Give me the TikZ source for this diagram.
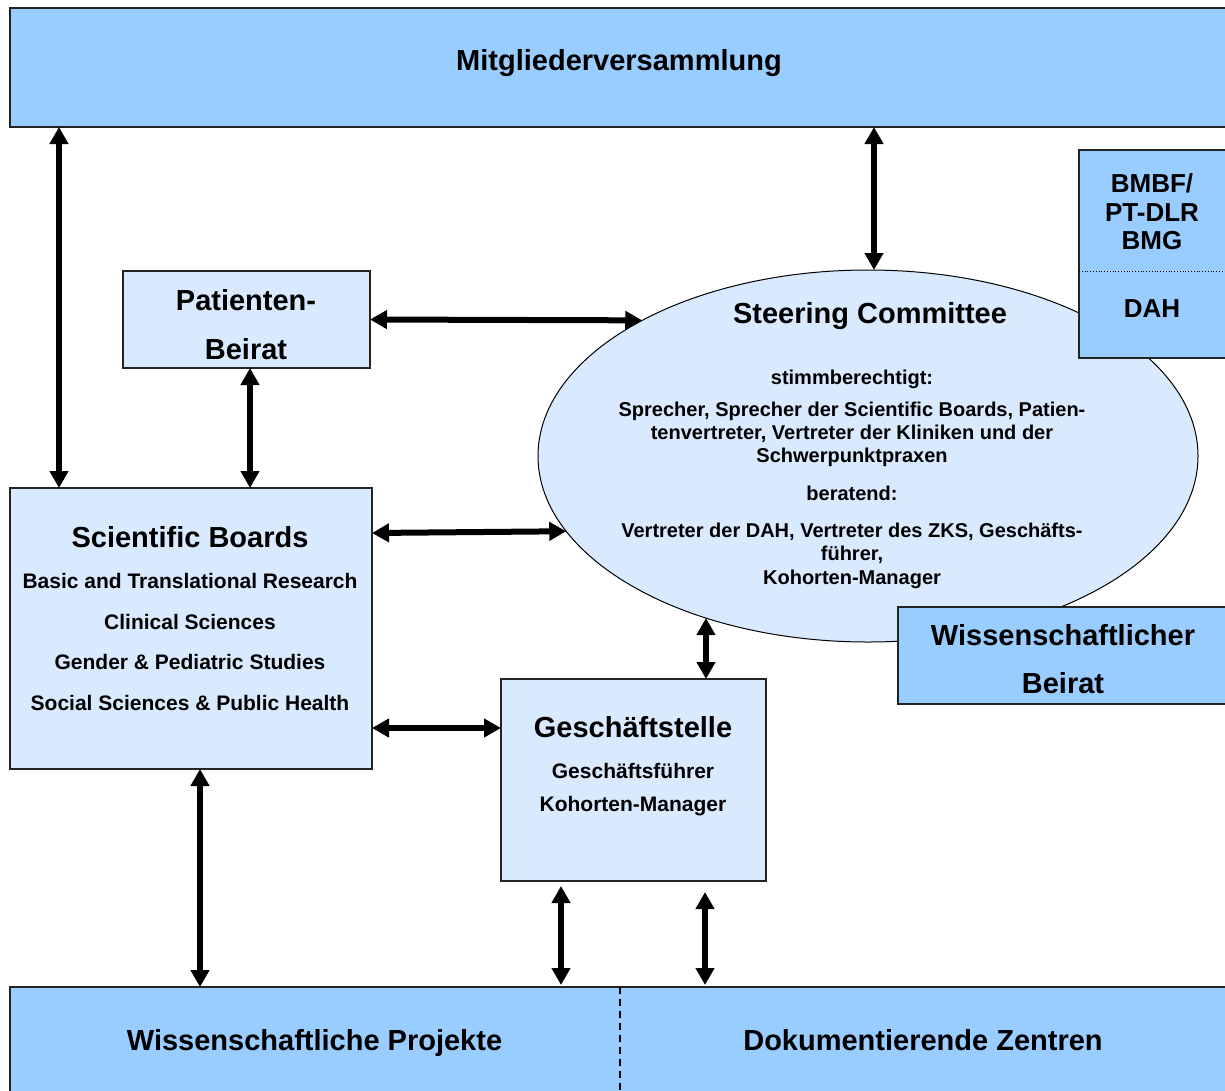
\documentclass[tikz,border=0pt]{standalone}
\usepackage{fontspec}
\setmainfont{Liberation Sans}
\usetikzlibrary{shapes.geometric,arrows.meta}
\definecolor{dblue}{RGB}{153,204,255}
\definecolor{lblue}{RGB}{217,234,255}
\definecolor{edgec}{RGB}{35,35,35}
\tikzset{
 box/.style={draw=edgec,line width=1.3pt,anchor=north west,inner sep=0,outer sep=0},
 dbox/.style={box,fill=dblue},
 lbox/.style={box,fill=lblue},
 big/.style={font=\fontsize{29}{29}\selectfont\bfseries,anchor=base,inner sep=0},
 mid/.style={font=\fontsize{26}{26}\selectfont\bfseries,anchor=base,inner sep=0},
 small/.style={font=\fontsize{21}{21}\selectfont\bfseries,anchor=base,inner sep=0},
 tiny/.style={font=\fontsize{20}{20}\selectfont\bfseries,anchor=base,inner sep=0},
 dbl/.style={{Triangle[width=18pt,length=17pt]}-{Triangle[width=18pt,length=17pt]},line width=6pt},
}
\begin{document}
\begin{tikzpicture}[x=1pt,y=-1pt]
\useasboundingbox (0,0) rectangle (1225,1090);
\clip (0,0) rectangle (1225,1090);
% boxes
\node[dbox,minimum width=1225,minimum height=119] (mv) at (10,8) {};
\node[big] (mvt) at (619,70) {Mitgliederversammlung};

\node[ellipse,draw=black,line width=1pt,fill=lblue,minimum width=660,minimum height=372,inner sep=0,outer sep=0] (sc) at (868,456) {};
\node[big] (sct) at (870,323) {Steering Committee};
\node[tiny] (s1) at (852,384) {stimmberechtigt:};
\node[tiny] (s2) at (852,416) {Sprecher, Sprecher der Scientific Boards, Patien-};
\node[tiny] (s3) at (852,439) {tenvertreter, Vertreter der Kliniken und der};
\node[tiny] (s4) at (852,462) {Schwerpunktpraxen};
\node[tiny] (s5) at (852,500) {beratend:};
\node[tiny] (s6) at (852,537) {Vertreter der DAH, Vertreter des ZKS, Geschäfts-};
\node[tiny] (s7) at (852,560) {führer,};
\node[tiny] (s8) at (852,584) {Kohorten-Manager};

\node[dbox,minimum width=150,minimum height=208] (bm) at (1079,150) {};
\draw[dotted,line width=0.8pt] (bm.west |- 0,271) coordinate (bmdl) -- (bm.east |- bmdl);
\node[mid] (bm1) at (1152,192) {BMBF/};
\node[mid] (bm2) at (1152,221) {PT-DLR};
\node[mid] (bm3) at (1152,249) {BMG};
\node[mid] (bm4) at (1152,317) {DAH};

\node[dbox,minimum width=330,minimum height=97] (wb) at (898,607) {};
\node[big] (wb1) at (1063,645) {Wissenschaftlicher};
\node[big] (wb2) at (1063,693) {Beirat};

\node[lbox,minimum width=247,minimum height=97] (pb) at (123,271) {};
\node[big] (pb1) at (246,310) {Patienten-};
\node[big] (pb2) at (246,359) {Beirat};

\node[lbox,minimum width=362,minimum height=281] (sb) at (10,488) {};
\node[big] (sb0) at (190,547) {Scientific Boards};
\node[small] (sb1) at (190,588.5) {Basic and Translational Research};
\node[small] (sb2) at (190,629.5) {Clinical Sciences};
\node[small] (sb3) at (190,669.5) {Gender \& Pediatric Studies};
\node[small] (sb4) at (190,710.5) {Social Sciences \& Public Health};

\node[lbox,minimum width=265,minimum height=202] (gs) at (501,679) {};
\node[big] (gs0) at (633,737) {Geschäftstelle};
\node[small] (gs1) at (633,778.5) {Geschäftsführer};
\node[small] (gs2) at (633,811.5) {Kohorten-Manager};

\node[dbox,minimum width=1225,minimum height=110] (bt) at (10,987) {};
\draw[line width=1.8pt,dash pattern=on 7pt off 5pt] (bt.north -| 620,0) coordinate (dsh) -- (dsh |- 0,1090);
\node[big] (bt1) at (314.5,1050) {Wissenschaftliche Projekte};
\node[big] (bt2) at (923,1050) {Dokumentierende Zentren};

% connectors
\coordinate (c59) at (59,0);
\coordinate (c874) at (874,0);
\coordinate (c250) at (250,0);
\coordinate (c200) at (200,0);
\coordinate (c561) at (561,0);
\coordinate (c705) at (705,0);
\coordinate (y533) at (0,533);
\coordinate (y728) at (0,728);
\draw[dbl] (mv.south -| c59) -- (sb.north -| c59);
\draw[dbl] (mv.south -| c874) -- (sc.north -| c874);
\draw[dbl] (pb.south -| c250) -- (sb.north -| c250);
\draw[dbl] (pb.east) -- (sc.149);
\draw[dbl] (sb.east |- y533) -- (sc.194);
\draw[dbl] (sb.east |- y728) -- (gs.west |- y728);
\draw[dbl] (sc.225) -- (gs.north -| sc.225);
\draw[dbl] (sb.south -| c200) -- (bt.north -| c200);
\draw[dbl] ([yshift=-5pt]gs.south -| c561) -- ([yshift=2pt]bt.north -| c561);
\draw[dbl] ([yshift=-11pt]gs.south -| c705) -- ([yshift=2pt]bt.north -| c705);
\end{tikzpicture}
\end{document}
